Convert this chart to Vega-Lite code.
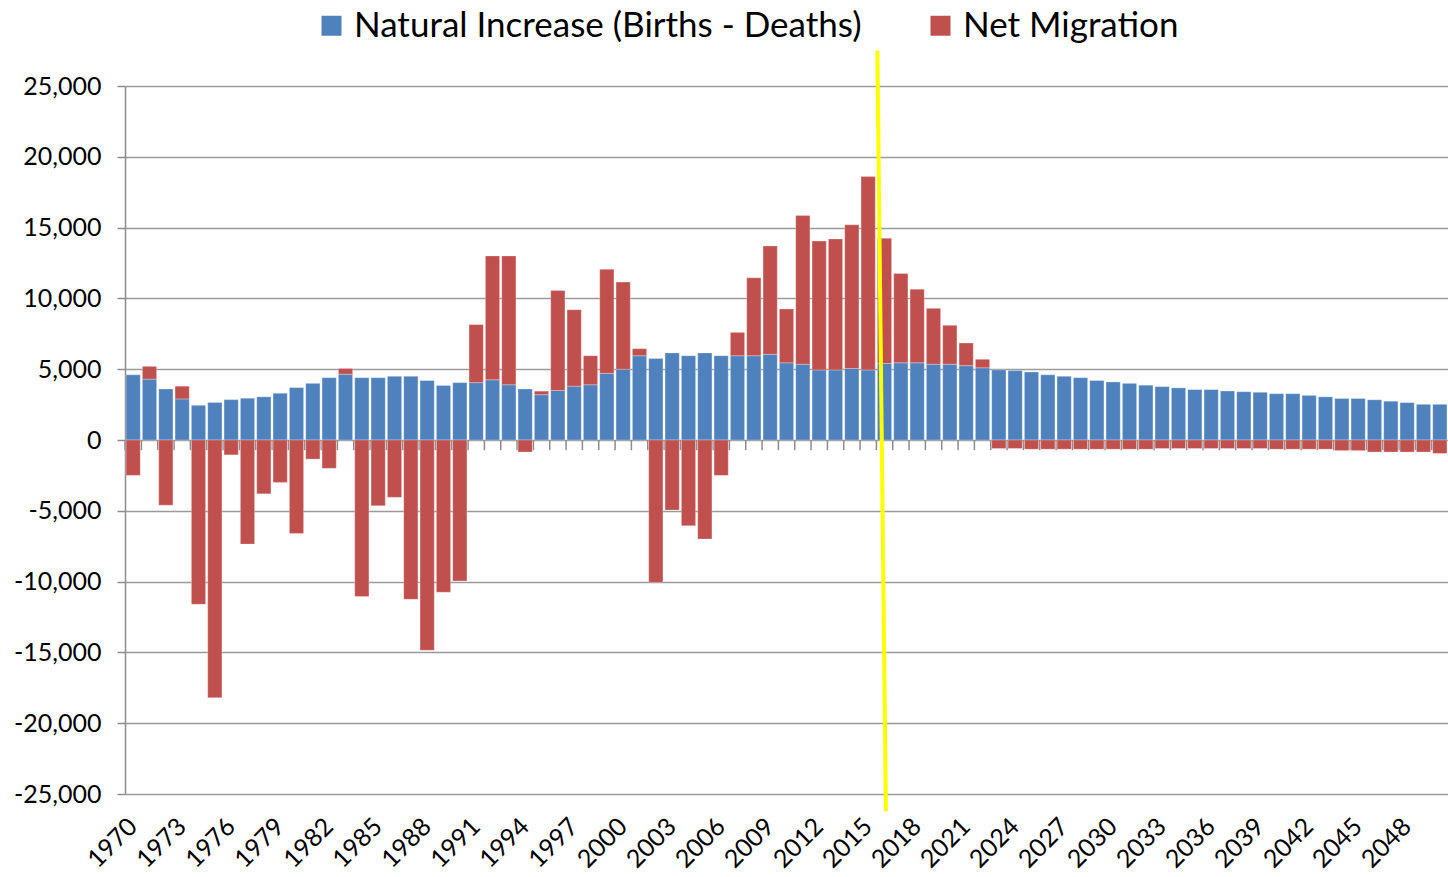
{
  "$schema": "https://vega.github.io/schema/vega-lite/v6.json",
  "width": 1323,
  "height": 708,
  "autosize": {"type": "none"},
  "padding": {"left": 125, "top": 86, "right": 0, "bottom": 83},
  "background": "white",
  "config": {
    "view": {"stroke": null},
    "font": "Lato",
    "axis": {"labelFont": "Lato", "labelColor": "#000000"},
    "legend": {"labelFont": "Lato", "labelColor": "#000000"}
  },
  "data": {
    "values": [
      {"year": 1970, "Natural Increase (Births - Deaths)": 4600, "Net Migration": -2500},
      {"year": 1971, "Natural Increase (Births - Deaths)": 4300, "Net Migration": 900},
      {"year": 1972, "Natural Increase (Births - Deaths)": 3600, "Net Migration": -4600},
      {"year": 1973, "Natural Increase (Births - Deaths)": 2900, "Net Migration": 900},
      {"year": 1974, "Natural Increase (Births - Deaths)": 2450, "Net Migration": -11600},
      {"year": 1975, "Natural Increase (Births - Deaths)": 2650, "Net Migration": -18200},
      {"year": 1976, "Natural Increase (Births - Deaths)": 2850, "Net Migration": -1050},
      {"year": 1977, "Natural Increase (Births - Deaths)": 2950, "Net Migration": -7350},
      {"year": 1978, "Natural Increase (Births - Deaths)": 3050, "Net Migration": -3800},
      {"year": 1979, "Natural Increase (Births - Deaths)": 3300, "Net Migration": -3000},
      {"year": 1980, "Natural Increase (Births - Deaths)": 3700, "Net Migration": -6600},
      {"year": 1981, "Natural Increase (Births - Deaths)": 4000, "Net Migration": -1350},
      {"year": 1982, "Natural Increase (Births - Deaths)": 4400, "Net Migration": -2000},
      {"year": 1983, "Natural Increase (Births - Deaths)": 4650, "Net Migration": 400},
      {"year": 1984, "Natural Increase (Births - Deaths)": 4400, "Net Migration": -11050},
      {"year": 1985, "Natural Increase (Births - Deaths)": 4400, "Net Migration": -4650},
      {"year": 1986, "Natural Increase (Births - Deaths)": 4500, "Net Migration": -4050},
      {"year": 1987, "Natural Increase (Births - Deaths)": 4500, "Net Migration": -11250},
      {"year": 1988, "Natural Increase (Births - Deaths)": 4200, "Net Migration": -14850},
      {"year": 1989, "Natural Increase (Births - Deaths)": 3850, "Net Migration": -10750},
      {"year": 1990, "Natural Increase (Births - Deaths)": 4050, "Net Migration": -9950},
      {"year": 1991, "Natural Increase (Births - Deaths)": 4050, "Net Migration": 4100},
      {"year": 1992, "Natural Increase (Births - Deaths)": 4250, "Net Migration": 8750},
      {"year": 1993, "Natural Increase (Births - Deaths)": 3900, "Net Migration": 9100},
      {"year": 1994, "Natural Increase (Births - Deaths)": 3600, "Net Migration": -850},
      {"year": 1995, "Natural Increase (Births - Deaths)": 3200, "Net Migration": 250},
      {"year": 1996, "Natural Increase (Births - Deaths)": 3500, "Net Migration": 7050},
      {"year": 1997, "Natural Increase (Births - Deaths)": 3800, "Net Migration": 5400},
      {"year": 1998, "Natural Increase (Births - Deaths)": 3900, "Net Migration": 2050},
      {"year": 1999, "Natural Increase (Births - Deaths)": 4700, "Net Migration": 7350},
      {"year": 2000, "Natural Increase (Births - Deaths)": 5000, "Net Migration": 6150},
      {"year": 2001, "Natural Increase (Births - Deaths)": 5950, "Net Migration": 500},
      {"year": 2002, "Natural Increase (Births - Deaths)": 5750, "Net Migration": -10050},
      {"year": 2003, "Natural Increase (Births - Deaths)": 6150, "Net Migration": -4950},
      {"year": 2004, "Natural Increase (Births - Deaths)": 5950, "Net Migration": -6050},
      {"year": 2005, "Natural Increase (Births - Deaths)": 6150, "Net Migration": -7000},
      {"year": 2006, "Natural Increase (Births - Deaths)": 5950, "Net Migration": -2500},
      {"year": 2007, "Natural Increase (Births - Deaths)": 5950, "Net Migration": 1650},
      {"year": 2008, "Natural Increase (Births - Deaths)": 5950, "Net Migration": 5500},
      {"year": 2009, "Natural Increase (Births - Deaths)": 6050, "Net Migration": 7650},
      {"year": 2010, "Natural Increase (Births - Deaths)": 5450, "Net Migration": 3800},
      {"year": 2011, "Natural Increase (Births - Deaths)": 5350, "Net Migration": 10500},
      {"year": 2012, "Natural Increase (Births - Deaths)": 4950, "Net Migration": 9100},
      {"year": 2013, "Natural Increase (Births - Deaths)": 4950, "Net Migration": 9250},
      {"year": 2014, "Natural Increase (Births - Deaths)": 5050, "Net Migration": 10150},
      {"year": 2015, "Natural Increase (Births - Deaths)": 4950, "Net Migration": 13650},
      {"year": 2016, "Natural Increase (Births - Deaths)": 5400, "Net Migration": 8850},
      {"year": 2017, "Natural Increase (Births - Deaths)": 5450, "Net Migration": 6300},
      {"year": 2018, "Natural Increase (Births - Deaths)": 5450, "Net Migration": 5200},
      {"year": 2019, "Natural Increase (Births - Deaths)": 5350, "Net Migration": 3950},
      {"year": 2020, "Natural Increase (Births - Deaths)": 5350, "Net Migration": 2750},
      {"year": 2021, "Natural Increase (Births - Deaths)": 5250, "Net Migration": 1600},
      {"year": 2022, "Natural Increase (Births - Deaths)": 5100, "Net Migration": 600},
      {"year": 2023, "Natural Increase (Births - Deaths)": 4950, "Net Migration": -600},
      {"year": 2024, "Natural Increase (Births - Deaths)": 4900, "Net Migration": -600},
      {"year": 2025, "Natural Increase (Births - Deaths)": 4800, "Net Migration": -650},
      {"year": 2026, "Natural Increase (Births - Deaths)": 4600, "Net Migration": -650},
      {"year": 2027, "Natural Increase (Births - Deaths)": 4500, "Net Migration": -650},
      {"year": 2028, "Natural Increase (Births - Deaths)": 4400, "Net Migration": -650},
      {"year": 2029, "Natural Increase (Births - Deaths)": 4200, "Net Migration": -650},
      {"year": 2030, "Natural Increase (Births - Deaths)": 4100, "Net Migration": -650},
      {"year": 2031, "Natural Increase (Births - Deaths)": 4000, "Net Migration": -650},
      {"year": 2032, "Natural Increase (Births - Deaths)": 3870, "Net Migration": -650},
      {"year": 2033, "Natural Increase (Births - Deaths)": 3770, "Net Migration": -600},
      {"year": 2034, "Natural Increase (Births - Deaths)": 3680, "Net Migration": -600},
      {"year": 2035, "Natural Increase (Births - Deaths)": 3560, "Net Migration": -600},
      {"year": 2036, "Natural Increase (Births - Deaths)": 3560, "Net Migration": -600},
      {"year": 2037, "Natural Increase (Births - Deaths)": 3460, "Net Migration": -600},
      {"year": 2038, "Natural Increase (Births - Deaths)": 3410, "Net Migration": -600},
      {"year": 2039, "Natural Increase (Births - Deaths)": 3370, "Net Migration": -600},
      {"year": 2040, "Natural Increase (Births - Deaths)": 3270, "Net Migration": -650},
      {"year": 2041, "Natural Increase (Births - Deaths)": 3270, "Net Migration": -650},
      {"year": 2042, "Natural Increase (Births - Deaths)": 3150, "Net Migration": -650},
      {"year": 2043, "Natural Increase (Births - Deaths)": 3050, "Net Migration": -650},
      {"year": 2044, "Natural Increase (Births - Deaths)": 2930, "Net Migration": -750},
      {"year": 2045, "Natural Increase (Births - Deaths)": 2930, "Net Migration": -750},
      {"year": 2046, "Natural Increase (Births - Deaths)": 2840, "Net Migration": -850},
      {"year": 2047, "Natural Increase (Births - Deaths)": 2740, "Net Migration": -850},
      {"year": 2048, "Natural Increase (Births - Deaths)": 2640, "Net Migration": -850},
      {"year": 2049, "Natural Increase (Births - Deaths)": 2520, "Net Migration": -850},
      {"year": 2050, "Natural Increase (Births - Deaths)": 2520, "Net Migration": -950}
    ]
  },
  "encoding": {
    "x": {
      "field": "year",
      "type": "ordinal",
      "scale": {"paddingInner": 0.13, "paddingOuter": 0.065},
      "axis": {
        "title": null,
        "values": [1970, 1973, 1976, 1979, 1982, 1985, 1988, 1991, 1994, 1997, 2000, 2003, 2006, 2009, 2012, 2015, 2018, 2021, 2024, 2027, 2030, 2033, 2036, 2039, 2042, 2045, 2048],
        "labelAngle": -45,
        "labelAlign": "right",
        "labelBaseline": "middle",
        "labelFontSize": 25,
        "labelPadding": 28,
        "labelOverlap": false,
        "ticks": false,
        "domain": false,
        "grid": false
      }
    }
  },
  "layer": [
    {
      "mark": {"type": "rule", "color": "#8c8c8c", "strokeWidth": 1.5},
      "encoding": {
        "x": {"field": "year", "type": "ordinal", "bandPosition": -0.07},
        "y": {"datum": 0, "type": "quantitative"},
        "y2": {"datum": -720}
      }
    },
    {
      "transform": [
        {"fold": ["Natural Increase (Births - Deaths)", "Net Migration"], "as": ["series", "value"]}
      ],
      "mark": {"type": "bar", "stroke": "#ffffff", "strokeOpacity": 0.35, "strokeWidth": 0.8},
      "encoding": {
        "y": {
          "field": "value",
          "type": "quantitative",
          "stack": "zero",
          "scale": {"domain": [-25000, 25000], "nice": false},
          "axis": {
            "title": null,
            "values": [-25000, -20000, -15000, -10000, -5000, 0, 5000, 10000, 15000, 20000, 25000],
            "labelExpr": "datum.value < 0 ? '-' + format(-datum.value, ',') : format(datum.value, ',')",
            "labelFontSize": 25,
            "labelPadding": 16,
            "tickSize": 8,
            "tickColor": "#8c8c8c",
            "tickWidth": 1.5,
            "domainColor": "#8c8c8c",
            "domainWidth": 1.5,
            "grid": true,
            "gridColor": "#9a9a9a",
            "gridWidth": 1.5
          }
        },
        "color": {
          "field": "series",
          "type": "nominal",
          "scale": {
            "domain": ["Natural Increase (Births - Deaths)", "Net Migration"],
            "range": ["#4f81bd", "#c0504d"]
          },
          "legend": {
            "title": null,
            "orient": "none",
            "direction": "horizontal",
            "legendX": 189,
            "legendY": -78,
            "padding": 0,
            "symbolType": "square",
            "symbolSize": 400,
            "symbolStrokeWidth": 0,
            "labelFontSize": 35,
            "labelLimit": 0,
            "labelOffset": 5,
            "columnPadding": 61
          }
        },
        "order": {"field": "series", "sort": "ascending"}
      }
    },
    {
      "data": {"values": [{"year": 2016}]},
      "mark": {"type": "rule", "color": "#ffff00", "strokeWidth": 4},
      "encoding": {
        "x": {"field": "year", "type": "ordinal", "bandPosition": 0},
        "x2": {"field": "year", "bandPosition": 0.6},
        "y": {"datum": 27500, "type": "quantitative"},
        "y2": {"datum": -26200}
      }
    }
  ]
}
